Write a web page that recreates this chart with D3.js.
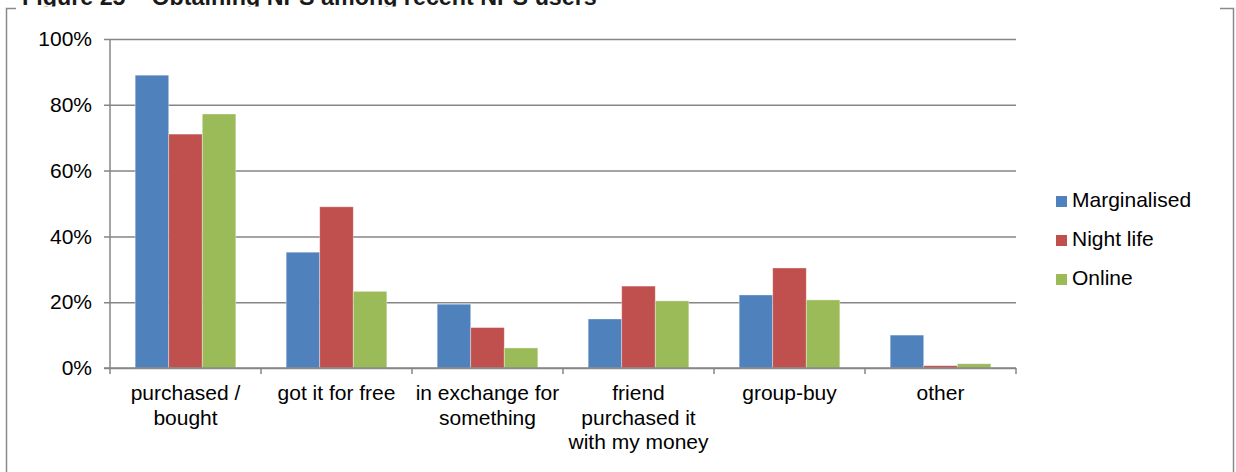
<!DOCTYPE html>
<html>
<head>
<meta charset="utf-8">
<script src="https://cdn.jsdelivr.net/npm/d3@7"></script>
<style>
  html, body { margin: 0; padding: 0; background: #fff; }
  svg { display: block; font-family: "Liberation Sans", Arial, sans-serif; }
</style>
</head>
<body>
<svg id="chart" width="1236" height="472"></svg>
<script>
// Ways of obtaining NPS, share of recent users per group
const categories = [
  ["purchased /", "bought"],
  ["got it for free"],
  ["in exchange for", "something"],
  ["friend", "purchased it", "with my money"],
  ["group-buy"],
  ["other"]
];
const seriesNames = ["Marginalised", "Night life", "Online"];
const seriesColors = ["#4F81BD", "#C0504D", "#9BBB59"];
const marginalised = [89.0, 35.2, 19.4, 14.9, 22.2, 10.0];
const nightLife    = [71.1, 49.0, 12.3, 24.9, 30.4, 0.7];
const online       = [77.2, 23.3, 6.1, 20.4, 20.7, 1.3];
const yTicks = [0, 20, 40, 60, 80, 100];
const titleText = "Figure 25 \u2013 Obtaining NPS among recent NPS users";

const seriesValues = [marginalised, nightLife, online];
const svg = d3.select("#chart");
const axisColor = "#868686";

const plot = { left: 110, right: 1016, top: 39, bottom: 368 };

// Title sits above the frame and is cut off by the page edge
svg.append("clipPath").attr("id", "titleClip")
  .append("rect").attr("x", 0).attr("y", 0).attr("width", 1236).attr("height", 6.5);
svg.append("text")
  .attr("clip-path", "url(#titleClip)")
  .attr("x", 22).attr("y", 5)
  .attr("font-size", 23.3).attr("font-weight", "bold").attr("fill", "#1a1a1a")
  .text(titleText);

// Outer frame, with the top edge interrupted by the title
const frame = svg.append("g").attr("stroke", "#8a8a8a").attr("stroke-width", 1.5).attr("fill", "none");
frame.append("path").attr("d", "M6.5,472 L6.5,8.5 L16,8.5");
frame.append("path").attr("d", "M1220,8.5 L1233.5,8.5 L1233.5,472");

const x = d3.scaleBand()
  .domain(d3.range(categories.length))
  .range([plot.left, plot.right])
  .padding(0);

const xs = d3.scaleBand()
  .domain(d3.range(seriesNames.length))
  .range([0, x.bandwidth()])
  .paddingInner(0)
  .paddingOuter(0.75);

const y = d3.scaleLinear().domain([0, 100]).range([plot.bottom, plot.top]);

// Gridlines (with the short left tick marks)
const yAxis = d3.axisLeft(y)
  .tickValues(yTicks)
  .tickSize(-(plot.right - plot.left))
  .tickSizeOuter(0)
  .tickPadding(12)
  .tickFormat(d => d + "%");
const yG = svg.append("g").attr("transform", `translate(${plot.left},0)`).call(yAxis);
yG.select(".domain").remove();
yG.selectAll(".tick line")
  .attr("x1", -6)
  .attr("stroke", axisColor).attr("stroke-width", 1.5);
yG.selectAll(".tick text")
  .attr("x", -18)
  .attr("font-size", 21).attr("fill", "#000")
  .attr("font-family", "'Liberation Sans', Arial, sans-serif");

// Bars
seriesValues.forEach((vals, si) => {
  svg.append("g")
    .selectAll("rect")
    .data(vals)
    .join("rect")
    .attr("x", (d, i) => x(i) + xs(si))
    .attr("width", xs.bandwidth())
    .attr("y", d => y(d))
    .attr("height", d => y(0) - y(d))
    .attr("fill", seriesColors[si])
    .attr("stroke", "rgba(255,255,255,0.45)")
    .attr("stroke-width", 0.8);
});

// Vertical axis line
svg.append("line")
  .attr("x1", plot.left).attr("x2", plot.left)
  .attr("y1", y(100)).attr("y2", y(0))
  .attr("stroke", axisColor).attr("stroke-width", 1.5);

// Category axis with boundary ticks
const xAxisG = svg.append("g").attr("transform", `translate(0,${plot.bottom})`);
xAxisG.append("line")
  .attr("x1", plot.left - 6).attr("x2", plot.right)
  .attr("stroke", axisColor).attr("stroke-width", 1.5);
const boundaries = d3.range(categories.length + 1).map(i => i < categories.length ? x(i) : plot.right);
xAxisG.selectAll(".bt")
  .data(boundaries)
  .join("line")
  .attr("x1", d => d).attr("x2", d => d)
  .attr("y1", 0).attr("y2", 6)
  .attr("stroke", axisColor).attr("stroke-width", 1.5);

const labelG = svg.append("g");
categories.forEach((lines, i) => {
  const t = labelG.append("text")
    .attr("text-anchor", "middle")
    .attr("font-size", 21).attr("fill", "#000");
  lines.forEach((ln, j) => {
    t.append("tspan")
      .attr("x", x(i) + x.bandwidth() / 2)
      .attr("y", 400 + j * 24.5)
      .text(ln);
  });
});

// Legend
const legend = svg.append("g");
seriesNames.forEach((name, i) => {
  const ly = 207 + i * 39;
  legend.append("rect")
    .attr("x", 1056).attr("y", ly - 11)
    .attr("width", 11).attr("height", 11)
    .attr("fill", seriesColors[i]);
  legend.append("text")
    .attr("x", 1072).attr("y", ly)
    .attr("font-size", 21).attr("fill", "#000")
    .text(name);
});
</script>
</body>
</html>
